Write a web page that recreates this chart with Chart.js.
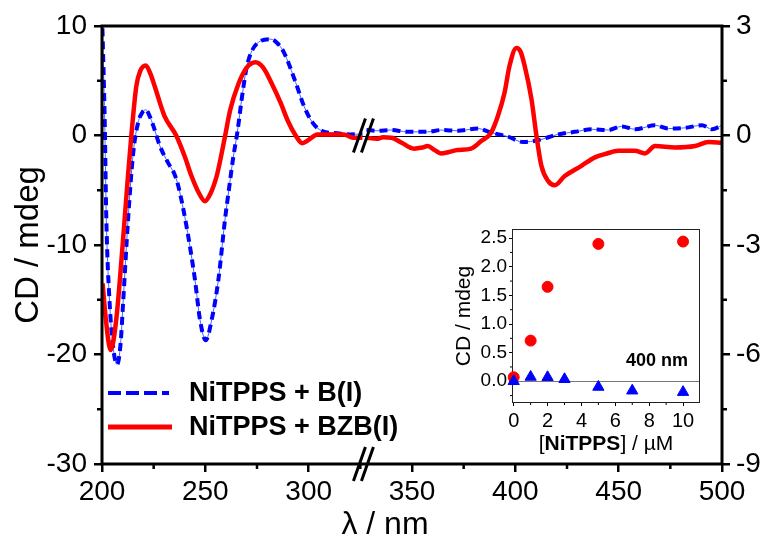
<!DOCTYPE html>
<html><head><meta charset="utf-8">
<script src="https://cdn.jsdelivr.net/npm/chart.js@4"></script>
<style>
html,body{margin:0;padding:0;background:#fff;}
#wrap{position:relative;width:765px;height:538px;overflow:hidden;background:#fff;}
#main{position:absolute;left:0;top:0;}
#inset{position:absolute;left:440px;top:215px;}
</style></head><body>
<div id="wrap"><canvas id="main" width="765" height="538"></canvas><canvas id="inset" width="275" height="245"></canvas></div>
<script>
// ---------- data (main CD spectra) ----------
// left part (200-326 nm), left axis, mdeg
const wlBlueLeft = [200.2,201.3,202.1,203.7,205.5,207.3,209,210.2,212.6,215.1,217.5,219.5,221.2,223,224.8,228,232,235,236.9,240.9,245,247.4,250.2,253.1,256.3,259.5,261.5,263.5,265.5,267.8,270.2,275,281.6,285,288,293.7,297.7,301.8,306.6,313.9,320,326];
const cdBlueLeft = [9.8,1.5,-7.7,-15.3,-19.5,-20.9,-19,-15.3,-7.7,-1.6,1.2,2.1,2.35,1.8,0.9,-0.95,-2.5,-3.5,-4.6,-8.3,-13.2,-16.8,-18.7,-16.8,-13.2,-7.7,-4.8,-2.0,0.3,3.6,6.4,8.4,8.8,8.4,7.6,4.85,2.7,1.2,0.4,0.2,0.1,0.15];
const wlRedLeft = [200.3,201.7,204.2,206.9,209.7,212.2,214.2,216.6,218.5,221.2,223.5,225.5,230.2,235.9,240,243.3,247,249.8,252.5,255.5,257.5,259.6,262,266,270,274.3,278,282,286.4,290,293.7,296.9,300,304.2,310,317,321.5,326];
const cdRedLeft = [-13.5,-16.5,-19.6,-16.8,-10.7,-4.6,0,4.5,5.9,6.4,5.6,4.5,1.8,0,-1.9,-3.7,-5.3,-6.0,-5.3,-3.7,-2.0,0,2.3,4.7,6.2,6.7,6.2,4.8,3.0,1.3,0,-0.7,-0.4,0.1,0.1,0.1,-0.2,-0.2];
// right part (327-500 nm), right axis, mdeg
const wlBlueRight = [328,333,339.8,347.9,357.6,364.1,372.2,381.9,388.3,396.4,403.7,411,420.7,428.8,436.9,445,451.5,458,467.6,474,482.2,490.3,495.2,500];
const cdBlueRight = [0.15,0.13,0.15,0.1,0.1,0.15,0.13,0.19,0.08,-0.03,-0.18,-0.13,0.03,0.1,0.17,0.15,0.25,0.17,0.28,0.19,0.21,0.28,0.17,0.28];
const wlRedRight = [328,333,336,340,345,351,355,357.6,361,364,368,372,378.6,383.5,388.3,391.6,394.8,397.2,400.5,402.5,404.5,407.8,410.2,412.6,415.9,419.1,423.9,432,438.5,444,449.8,457.9,462.7,467.6,477.3,487,493.5,500];
const cdRedRight = [-0.06,-0.09,-0.05,-0.06,-0.2,-0.36,-0.33,-0.29,-0.4,-0.49,-0.45,-0.4,-0.36,-0.15,0.08,0.54,1.18,1.91,2.40,2.3,1.91,1.0,0,-0.83,-1.25,-1.36,-1.11,-0.83,-0.6,-0.5,-0.42,-0.42,-0.49,-0.29,-0.33,-0.29,-0.18,-0.2];
const breakWl = 326.5;
const legendLabels = ['NiTPPS + B(I)', 'NiTPPS + BZB(I)'];
const xTicks = [200,250,300,350,400,450,500];
const xMinorTicks = [225,275,325,375,425,475];
const yLeftTicks = [-30,-20,-10,0,10];
const yLeftMinor = [-25,-15,-5,5];
const yRightTicks = [-9,-6,-3,0,3];
const yRightMinor = [-7.5,-4.5,-1.5,1.5];
const xTitle = 'λ / nm';
const yTitle = 'CD / mdeg';
// ---------- data (inset, 400 nm) ----------
const concRed = [0,1,2,5,10];
const cd400Red = [0.07,0.71,1.65,2.40,2.44];
const concBlue = [0,1,2,3,5,7,10];
const cd400Blue = [0.0,0.075,0.07,0.035,-0.10,-0.165,-0.19];
const insetXTicks = [0,2,4,6,8,10];
const insetXMinor = [1,3,5,7,9];
const insetYTicks = [0,0.5,1,1.5,2,2.5];
const insetYMinor = [-0.25,0.25,0.75,1.25,1.75,2.25];
const insetNote = '400 nm';
const insetYTitle = 'CD / mdeg';
const insetXTitleParts = ['[', 'NiTPPS', '] / µM'];

const FONT = '"Liberation Sans", Arial, Helvetica, sans-serif';
const zip = (xs, ys) => xs.map((x, i) => ({x: x, y: ys[i]}));
const setTicks = arr => (scale) => { scale.ticks = arr.map(v => ({value: v})); };

function minorTicks(ctx, scale, vals, len, side, lw) {
  ctx.save(); ctx.strokeStyle = '#000'; ctx.lineWidth = lw;
  ctx.beginPath();
  vals.forEach(v => {
    const p = scale.getPixelForValue(v);
    if (side === 'bottom') { ctx.moveTo(p, scale.top); ctx.lineTo(p, scale.top + len); }
    if (side === 'left') { ctx.moveTo(scale.right, p); ctx.lineTo(scale.right - len, p); }
    if (side === 'right') { ctx.moveTo(scale.left, p); ctx.lineTo(scale.left + len, p); }
  });
  ctx.stroke(); ctx.restore();
}

const mainDecor = {
  id: 'mainDecor',
  beforeDatasetsDraw(chart) {
    const {ctx, chartArea: a, scales} = chart;
    const y0 = Math.round(scales.y.getPixelForValue(0)) + 0.5;
    ctx.save(); ctx.strokeStyle = '#000'; ctx.lineWidth = 1;
    ctx.beginPath(); ctx.moveTo(a.left, y0); ctx.lineTo(a.right, y0); ctx.stroke();
    ctx.restore();
  },
  afterDraw(chart) {
    const {ctx, chartArea: a, scales} = chart;
    ctx.save();
    ctx.strokeStyle = '#000'; ctx.lineWidth = 3;
    ctx.strokeRect(a.left, a.top, a.right - a.left, a.bottom - a.top);
    minorTicks(ctx, scales.x, xMinorTicks, 5, 'bottom', 2.5);
    minorTicks(ctx, scales.y, yLeftMinor, 5, 'left', 2.5);
    minorTicks(ctx, scales.y2, yRightMinor, 5, 'right', 2.5);
    // axis breaks
    const bx = scales.x.getPixelForValue(breakWl);
    const drawBreak = (cy) => {
      ctx.save(); ctx.lineWidth = 3; ctx.strokeStyle = '#000';
      [-4, 4].forEach(d => {
        ctx.beginPath(); ctx.moveTo(bx + d - 6, cy + 17); ctx.lineTo(bx + d + 6, cy - 17); ctx.stroke();
      });
      ctx.restore();
    };
    drawBreak(scales.y.getPixelForValue(0));
    drawBreak(a.bottom);
    // legend
    ctx.font = 'bold 27px ' + FONT; ctx.textBaseline = 'middle'; ctx.fillStyle = '#000';
    ctx.save(); ctx.strokeStyle = '#0000ff'; ctx.lineWidth = 4; ctx.setLineDash([13, 5]);
    ctx.beginPath(); ctx.moveTo(108, 393); ctx.lineTo(169, 393); ctx.stroke(); ctx.restore();
    ctx.save(); ctx.strokeStyle = '#ff0000'; ctx.lineWidth = 5;
    ctx.beginPath(); ctx.moveTo(108, 427); ctx.lineTo(172, 427); ctx.stroke(); ctx.restore();
    ctx.fillText(legendLabels[0], 189, 394);
    ctx.fillText(legendLabels[1], 189, 428);
    // x title
    ctx.font = '32px ' + FONT; ctx.textAlign = 'center'; ctx.textBaseline = 'alphabetic';
    ctx.fillText(xTitle, 385, 534);
    ctx.restore();
  }
};

new Chart(document.getElementById('main'), {
  type: 'line',
  data: {
    datasets: [
      {data: zip(wlRedLeft, cdRedLeft), yAxisID: 'y', borderColor: '#ff0000', borderWidth: 4.5},
      {data: zip(wlRedRight, cdRedRight), yAxisID: 'y2', borderColor: '#ff0000', borderWidth: 4.5},
      {data: zip(wlBlueLeft, cdBlueLeft), yAxisID: 'y', borderColor: '#0000ff', borderWidth: 4, borderDash: [8, 5]},
      {data: zip(wlBlueRight, cdBlueRight), yAxisID: 'y2', borderColor: '#0000ff', borderWidth: 4, borderDash: [8, 5]},
      {data: zip(wlBlueLeft, cdBlueLeft), yAxisID: 'y', borderColor: '#4466ff', borderWidth: 1},
      {data: zip(wlBlueRight, cdBlueRight), yAxisID: 'y2', borderColor: '#4466ff', borderWidth: 1}
    ]
  },
  options: {
    responsive: false, animation: false, devicePixelRatio: 1,
    layout: {padding: {top: 26, left: 0, right: 0, bottom: 0}},
    elements: {point: {radius: 0}, line: {cubicInterpolationMode: 'monotone', fill: false}},
    plugins: {legend: {display: false}, tooltip: {enabled: false}},
    scales: {
      x: {
        type: 'linear', min: 200, max: 500,
        afterBuildTicks: setTicks(xTicks),
        afterFit: s => { s.height = 74; },
        grid: {drawOnChartArea: false, drawTicks: true, tickLength: 8, color: '#000', lineWidth: 2.5},
        border: {display: false},
        ticks: {font: {family: FONT, size: 28}, color: '#000', padding: 3, maxRotation: 0, autoSkip: false}
      },
      y: {
        type: 'linear', position: 'left', min: -30, max: 10,
        afterBuildTicks: setTicks(yLeftTicks),
        afterFit: s => { s.width = 102; },
        grid: {drawOnChartArea: false, drawTicks: true, tickLength: 8, color: '#000', lineWidth: 2.5},
        border: {display: false},
        ticks: {font: {family: FONT, size: 28}, color: '#000', padding: 7},
        title: {display: true, text: yTitle, font: {family: FONT, size: 33}, color: '#000', padding: {top: 9, bottom: 0}}
      },
      y2: {
        type: 'linear', position: 'right', min: -9, max: 3,
        afterBuildTicks: setTicks(yRightTicks),
        afterFit: s => { s.width = 43; },
        grid: {drawOnChartArea: false, drawTicks: true, tickLength: 8, color: '#000', lineWidth: 2.5},
        border: {display: false},
        ticks: {font: {family: FONT, size: 28}, color: '#000', padding: 6}
      }
    }
  },
  plugins: [mainDecor]
});

const insetDecor = {
  id: 'insetDecor',
  beforeDatasetsDraw(chart) {
    const {ctx, chartArea: a, scales} = chart;
    const y0 = Math.round(scales.y.getPixelForValue(0)) + 0.5;
    ctx.save(); ctx.strokeStyle = '#777'; ctx.lineWidth = 1;
    ctx.beginPath(); ctx.moveTo(a.left, y0); ctx.lineTo(a.right, y0); ctx.stroke();
    ctx.strokeStyle = '#222'; ctx.lineWidth = 1;
    ctx.strokeRect(a.left + 0.5, a.top + 0.5, a.right - a.left - 1, a.bottom - a.top - 1);
    ctx.restore();
    minorTicks(ctx, scales.x, insetXMinor, 2, 'bottom', 1);
    minorTicks(ctx, scales.y, insetYMinor, 2, 'left', 1);
  },
  afterDraw(chart) {
    const {ctx, chartArea: a} = chart;
    ctx.save(); ctx.fillStyle = '#000'; ctx.textBaseline = 'middle';
    ctx.font = 'bold 18px ' + FONT; ctx.textAlign = 'center';
    ctx.fillText(insetNote, 217, 146);
    // x title with bold part
    const fN = '21px ' + FONT, fB = 'bold 21px ' + FONT;
    const fonts = [fN, fB, fN];
    let widths = insetXTitleParts.map((t, i) => { ctx.font = fonts[i]; return ctx.measureText(t).width; });
    const total = widths.reduce((s, w) => s + w, 0);
    let x = (a.left + a.right) / 2 - total / 2;
    ctx.textAlign = 'left';
    insetXTitleParts.forEach((t, i) => { ctx.font = fonts[i]; ctx.fillText(t, x, 229); x += widths[i]; });
    ctx.restore();
  }
};

new Chart(document.getElementById('inset'), {
  type: 'scatter',
  data: {
    datasets: [
      {data: zip(concBlue, cd400Blue), pointStyle: 'triangle', pointRadius: 6.5, backgroundColor: '#0000ff', borderColor: '#0000ff', borderWidth: 1, clip: false},
      {data: zip(concRed, cd400Red), pointStyle: 'circle', pointRadius: 5.5, backgroundColor: '#ff0000', borderColor: '#ff0000', borderWidth: 1, clip: false}
    ]
  },
  options: {
    responsive: false, animation: false, devicePixelRatio: 1,
    layout: {padding: {top: 14, right: 15, left: 0, bottom: 0}},
    plugins: {legend: {display: false}, tooltip: {enabled: false}},
    scales: {
      x: {
        type: 'linear', min: -0.1, max: 11,
        afterBuildTicks: setTicks(insetXTicks),
        afterFit: s => { s.height = 57; },
        grid: {drawOnChartArea: false, drawTicks: true, tickLength: 3, color: '#000', lineWidth: 1},
        border: {display: false},
        ticks: {font: {family: FONT, size: 20}, color: '#000', padding: 3, maxRotation: 0, autoSkip: false}
      },
      y: {
        type: 'linear', min: -0.38, max: 2.66,
        afterBuildTicks: setTicks(insetYTicks),
        afterFit: s => { s.width = 72; },
        grid: {drawOnChartArea: false, drawTicks: true, tickLength: 3, color: '#000', lineWidth: 1},
        border: {display: false},
        ticks: {font: {family: FONT, size: 19}, color: '#000', padding: 2, callback: v => v.toFixed(1)},
        title: {display: true, text: insetYTitle, font: {family: FONT, size: 21}, color: '#000', padding: {top: 12, bottom: 0}}
      }
    }
  },
  plugins: [insetDecor]
});
</script>
</body></html>
